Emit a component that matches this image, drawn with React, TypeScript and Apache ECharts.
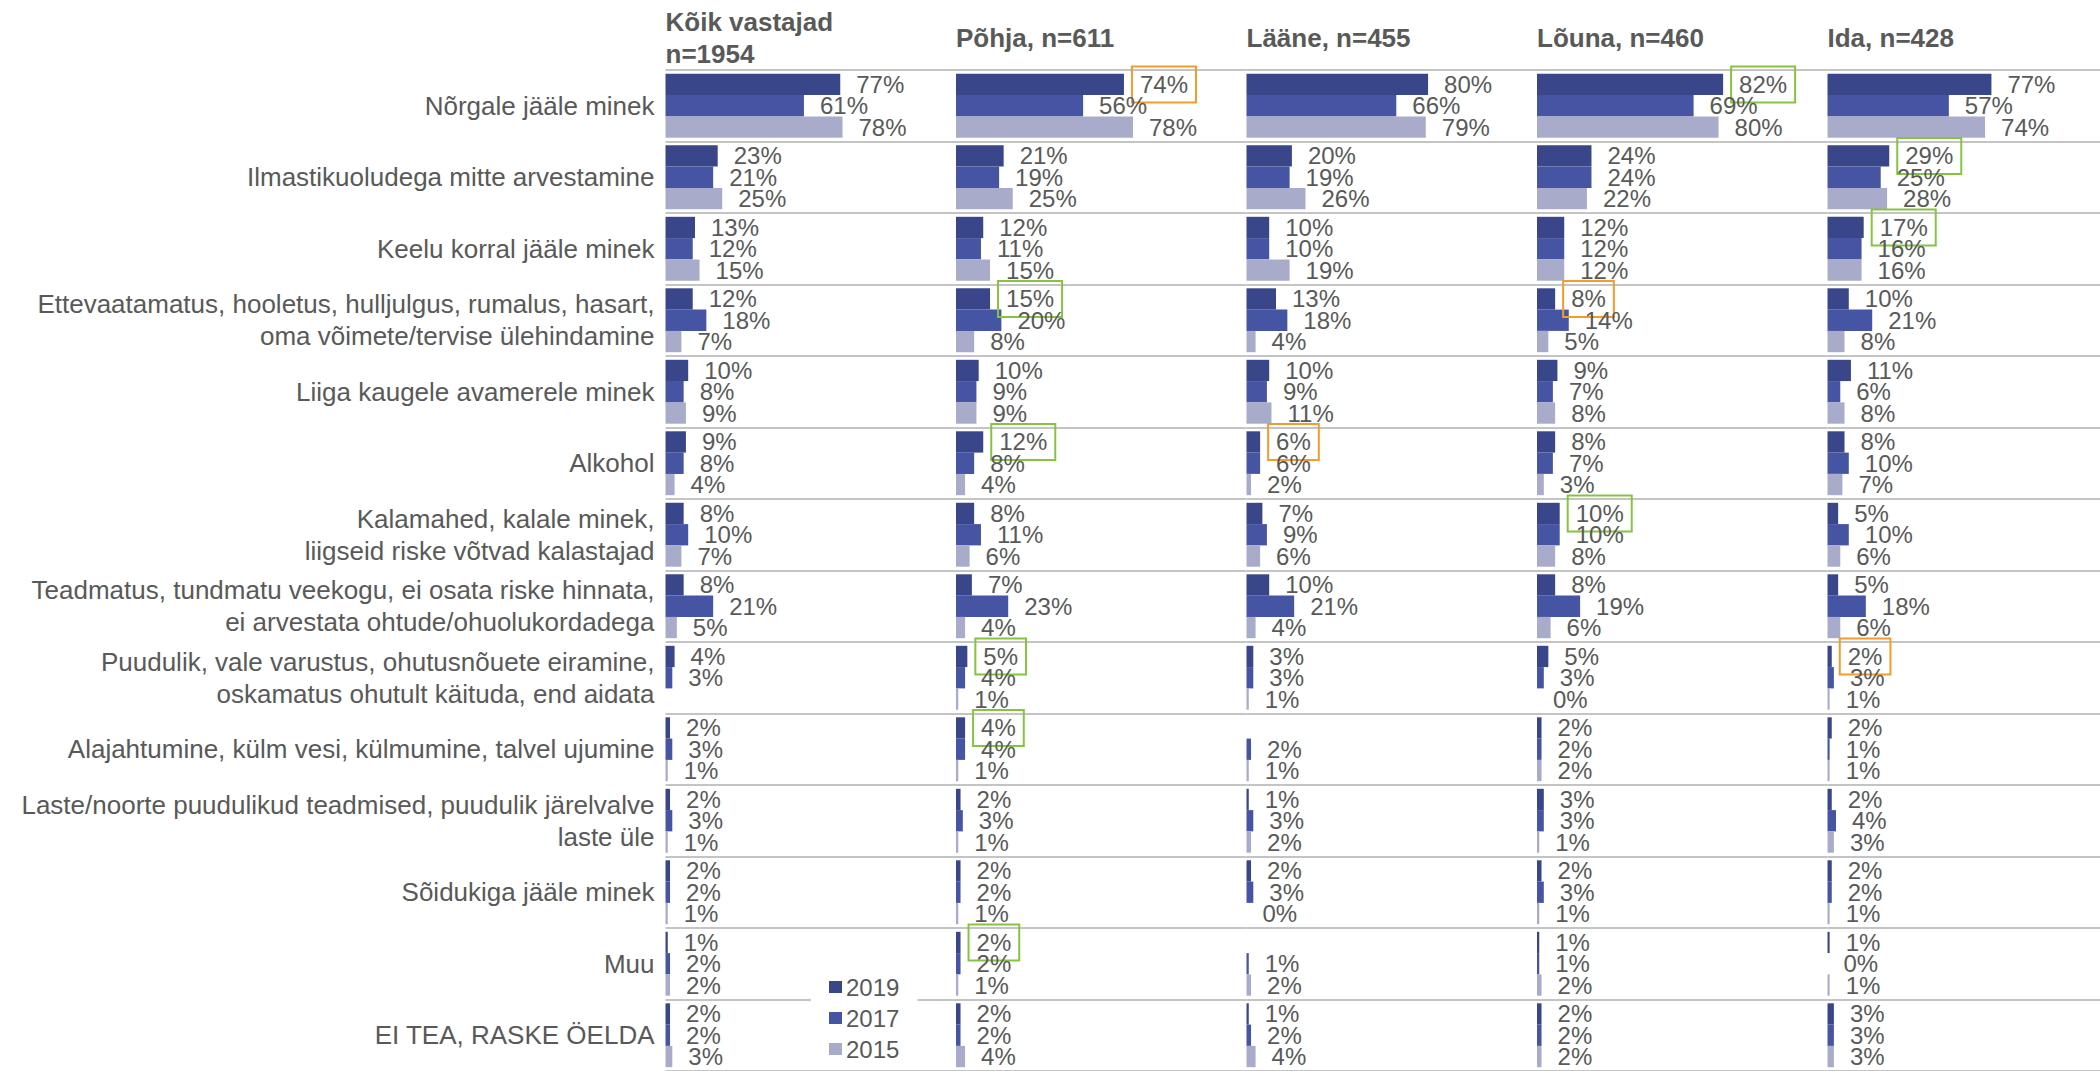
import React, { useEffect, useRef } from 'react';
import * as echarts from 'echarts';

const categories = [
  'Nõrgale jääle minek',
  'Ilmastikuoludega mitte arvestamine',
  'Keelu korral jääle minek',
  'Ettevaatamatus, hooletus, hulljulgus, rumalus, hasart,\noma võimete/tervise ülehindamine',
  'Liiga kaugele avamerele minek',
  'Alkohol',
  'Kalamahed, kalale minek,\nliigseid riske võtvad kalastajad',
  'Teadmatus, tundmatu veekogu, ei osata riske hinnata,\nei arvestata ohtude/ohuolukordadega',
  'Puudulik, vale varustus, ohutusnõuete eiramine,\noskamatus ohutult käituda, end aidata',
  'Alajahtumine, külm vesi, külmumine, talvel ujumine',
  'Laste/noorte puudulikud teadmised, puudulik järelvalve\nlaste üle',
  'Sõidukiga jääle minek',
  'Muu',
  'EI TEA, RASKE ÖELDA',
];

const regions = ['Kõik vastajad\nn=1954', 'Põhja, n=611', 'Lääne, n=455', 'Lõuna, n=460', 'Ida, n=428'];
const years = ['2019', '2017', '2015'];

const all2019 = [77, 23, 13, 12, 10, 9, 8, 8, 4, 2, 2, 2, 1, 2];
const all2017 = [61, 21, 12, 18, 8, 8, 10, 21, 3, 3, 3, 2, 2, 2];
const all2015 = [78, 25, 15, 7, 9, 4, 7, 5, null, 1, 1, 1, 2, 3];

const pohja2019 = [74, 21, 12, 15, 10, 12, 8, 7, 5, 4, 2, 2, 2, 2];
const pohja2017 = [56, 19, 11, 20, 9, 8, 11, 23, 4, 4, 3, 2, 2, 2];
const pohja2015 = [78, 25, 15, 8, 9, 4, 6, 4, 1, 1, 1, 1, 1, 4];

const laane2019 = [80, 20, 10, 13, 10, 6, 7, 10, 3, null, 1, 2, null, 1];
const laane2017 = [66, 19, 10, 18, 9, 6, 9, 21, 3, 2, 3, 3, 1, 2];
const laane2015 = [79, 26, 19, 4, 11, 2, 6, 4, 1, 1, 2, 0, 2, 4];

const louna2019 = [82, 24, 12, 8, 9, 8, 10, 8, 5, 2, 3, 2, 1, 2];
const louna2017 = [69, 24, 12, 14, 7, 7, 10, 19, 3, 2, 3, 3, 1, 2];
const louna2015 = [80, 22, 12, 5, 8, 3, 8, 6, 0, 2, 1, 1, 2, 2];

const ida2019 = [77, 29, 17, 10, 11, 8, 5, 5, 2, 2, 2, 2, 1, 3];
const ida2017 = [57, 25, 16, 21, 6, 10, 10, 18, 3, 1, 4, 2, 0, 3];
const ida2015 = [74, 28, 16, 8, 8, 7, 6, 6, 1, 1, 3, 1, 1, 3];

const regionData = [
  [all2019, all2017, all2015],
  [pohja2019, pohja2017, pohja2015],
  [laane2019, laane2017, laane2015],
  [louna2019, louna2017, louna2015],
  [ida2019, ida2017, ida2015],
];

// [region index, category index, year index, kind]
const highlights: [number, number, number, 'up' | 'down'][] = [
  [1, 0, 0, 'down'], [1, 3, 0, 'up'], [1, 5, 0, 'up'], [1, 8, 0, 'up'], [1, 9, 0, 'up'], [1, 12, 0, 'up'],
  [2, 5, 0, 'down'],
  [3, 0, 0, 'up'], [3, 3, 0, 'down'], [3, 6, 0, 'up'],
  [4, 1, 0, 'up'], [4, 2, 0, 'up'], [4, 8, 0, 'down'],
];

const FONT = '"Liberation Sans", Arial, sans-serif';
const TEXT = '#595959';
const COLORS = ['#394689', '#4654A4', '#A9ABCB'];
const BORDER = { up: '#86C440', down: '#F39C2B' };

function buildOption() {
  const panelLeft = 665.5;
  const panelStep = 290.5;
  const gridTop = 70;
  const rowH = 71.7;

  const grid: any[] = [];
  const xAxis: any[] = [];
  const yAxis: any[] = [];
  const series: any[] = [];
  const title: any[] = [];

  regions.forEach((r, i) => {
    const left = panelLeft + i * panelStep;
    grid.push({ left, top: gridTop, width: panelStep, height: rowH * categories.length });
    xAxis.push({ type: 'value', gridIndex: i, min: 0, max: 128, show: false });
    yAxis.push({
      type: 'category',
      gridIndex: i,
      inverse: true,
      data: categories,
      axisLine: { show: false },
      axisTick: { show: false },
      axisLabel: {
        show: i === 0,
        interval: 0,
        margin: 11,
        fontSize: 26,
        lineHeight: 32,
        color: TEXT,
        fontFamily: FONT,
        align: 'right',
      },
      splitLine: { show: true, lineStyle: { color: '#C4C4C4', width: 2 } },
    });
    const multi = r.includes('\n');
    title.push({
      text: r,
      left,
      top: multi ? 6 : 22,
      padding: 0,
      textStyle: { fontSize: 26, fontWeight: 'bold', color: TEXT, fontFamily: FONT, lineHeight: 32 },
    });

    years.forEach((y, j) => {
      const values = regionData[i][j];
      const data = values.map((v, c) => {
        const h = highlights.find((hl) => hl[0] === i && hl[1] === c && hl[2] === j);
        if (h && v != null) {
          return { value: v, label: { borderColor: BORDER[h[3]], borderWidth: 2 } };
        }
        return v;
      });
      series.push({
        type: 'bar',
        name: y,
        xAxisIndex: i,
        yAxisIndex: i,
        data,
        barWidth: 21.3,
        barGap: '0%',
        itemStyle: { color: COLORS[j] },
        label: {
          show: true,
          position: 'right',
          distance: 8,
          padding: [6, 8, 6, 8],
          fontSize: 24,
          lineHeight: 24,
          color: TEXT,
          fontFamily: FONT,
          formatter: (p: any) => (p.value == null ? '' : p.value + '%'),
        },
      });
    });
  });

  return {
    animation: false,
    backgroundColor: '#ffffff',
    title,
    grid,
    xAxis,
    yAxis,
    series,
    legend: {
      data: years,
      orient: 'vertical',
      left: 811,
      top: 967,
      padding: [8, 18, 8, 18],
      backgroundColor: '#ffffff',
      icon: 'rect',
      itemWidth: 13,
      itemHeight: 12,
      itemGap: 7,
      selectedMode: false,
      textStyle: { fontSize: 24, color: TEXT, fontFamily: FONT, padding: [0, 0, 0, -1] },
      z: 10,
    },
  };
}

export default function App() {
  const ref = useRef<HTMLDivElement>(null);
  useEffect(() => {
    const chart = echarts.init(ref.current!, null, { renderer: 'svg' });
    chart.setOption(buildOption() as any);
    return () => chart.dispose();
  }, []);
  return (
    <div
      ref={ref}
      style={{ position: 'fixed', left: 0, top: 0, width: 2100, height: 1071, background: '#fff' }}
    />
  );
}
